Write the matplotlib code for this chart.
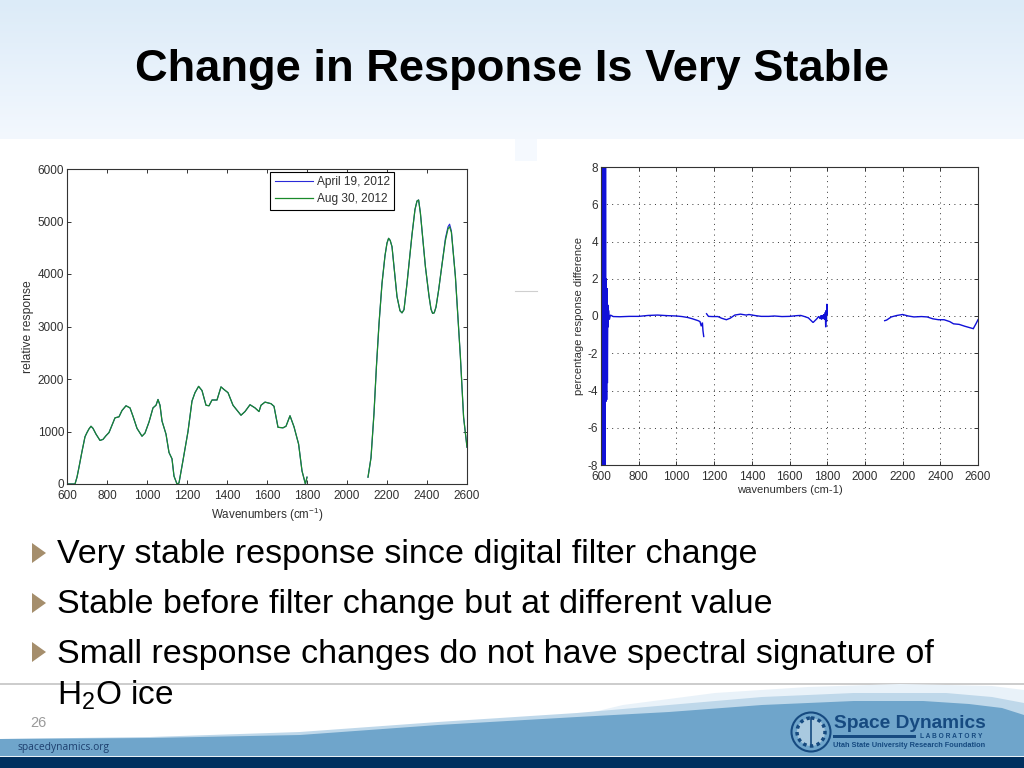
"""
Slide: change in response is very stable.
"""

import matplotlib
matplotlib.use("Agg")
import matplotlib.pyplot as plt
import numpy as np
from matplotlib.patches import Circle, Polygon, Rectangle

plt.rcParams["font.family"] = ["Liberation Sans", "DejaVu Sans"]
plt.rcParams["mathtext.default"] = "regular"
plt.rcParams["axes.unicode_minus"] = False

W, H = 1024, 768

# left chart, nan marks the gap in the band
wavenumber = [600, 620, 640, 650, 660, 675, 690, 700, 710, 720, 730, 745, 765, 780, 795, 810, 825, 840, 860, 875, 895,
              915, 930, 950, 975, 990, 1010, 1030, 1045, 1055, 1065, 1075, 1095, 1110, 1125, 1135, 1150, 1160, 1180,
              1205, 1225, 1240, 1258, 1275, 1295, 1310, 1325, 1350, 1370, 1385, 1405, 1430, 1470, 1490, 1515, 1540,
              1560, 1570, 1590, 1620, 1635, 1655, 1680, 1695, 1715, 1735, 1758, 1775, 1792, 1800, np.nan,
              2105, 2120, 2135, 2147, 2160, 2175, 2190, 2200, 2208, 2216, 2225, 2250, 2265, 2275, 2285, 2300, 2325,
              2340, 2350, 2358, 2367, 2392, 2410, 2420, 2428, 2436, 2445, 2458, 2475, 2492, 2505, 2513, 2522, 2542,
              2567, 2583, 2600]
april_19 = [0, 0, 0, 130, 320, 620, 900, 980, 1050, 1100, 1060, 950, 830, 850, 920, 980, 1120, 1260, 1280, 1400, 1490,
            1450, 1290, 1060, 910, 970, 1180, 1450, 1500, 1610, 1500, 1200, 950, 600, 480, 150, 0, 20, 450,
            1000, 1580, 1740, 1860, 1780, 1500, 1490, 1600, 1600, 1850, 1800, 1740, 1500, 1310, 1380, 1510, 1450,
            1380, 1500, 1560, 1530, 1480, 1080, 1070, 1100, 1300, 1090, 760, 250, 0, 130, np.nan,
            130, 500, 1350, 2230, 3050, 3820, 4350, 4590, 4680, 4640, 4520, 3570, 3300, 3260, 3320, 3820, 4750,
            5230, 5390, 5410, 5160, 4140, 3580, 3330, 3250, 3260, 3370, 3690, 4180, 4680, 4900, 4950, 4820, 3950,
            2420, 1270, 700]
aug_30 = [0, 0, 0, 130, 320, 620, 900, 980, 1050, 1100, 1060, 950, 830, 850, 920, 980, 1120, 1260, 1280, 1400, 1490,
          1450, 1290, 1060, 910, 970, 1180, 1450, 1500, 1610, 1500, 1200, 950, 600, 480, 150, 0, 20, 450,
          1000, 1580, 1740, 1860, 1780, 1500, 1490, 1600, 1600, 1850, 1800, 1740, 1500, 1310, 1380, 1510, 1450,
          1380, 1500, 1560, 1530, 1480, 1080, 1070, 1100, 1300, 1090, 760, 250, 0, 130, np.nan,
          130, 500, 1350, 2230, 3050, 3820, 4350, 4590, 4680, 4640, 4520, 3570, 3300, 3260, 3320, 3820, 4750,
          5230, 5390, 5410, 5160, 4140, 3580, 3330, 3250, 3260, 3370, 3690, 4180, 4640, 4860, 4900, 4790, 3950,
          2420, 1270, 700]

# right chart
diff_x = [606, 608, 610, 612, 614, 616, 618, 620, 622, 624, 626, 628, 630, 632, 634, 636, 638, 640, 644, 650, 665,
          700, 750, 800, 850, 900, 950, 1000, 1030, 1060, 1085, 1100, 1115, 1125, 1132, 1138, 1141, 1145, np.nan,
          1160, 1170, 1190, 1220, 1240, 1265, 1285, 1310, 1340, 1370, 1385, 1420, 1450, 1490, 1520, 1560, 1600,
          1640, 1660, 1680, 1700, 1725, 1745, 1755, 1762, 1766, 1770, 1774, 1778, 1782, 1786, 1790, 1792, 1794, 1796,
          1798, 1800, np.nan,
          2105, 2115, 2140, 2170, 2200, 2230, 2260, 2300, 2330, 2360, 2390, 2420, 2450, 2470, 2500, 2530, 2575,
          2590, 2600]
diff_pct = [-6, 8, -8, 8, -8, 8, -8, 8, -8, 8, -4.6, 2, -4.5, 1.5, -3.6, 0.6, -0.6, 0.3, -0.2, 0.05, -0.03,
            -0.04, -0.02, -0.02, 0.03, 0.05, 0.02, 0.0, -0.03, -0.08, -0.15, -0.2, -0.25, -0.3, -0.55, -0.35, -0.8,
            -1.1, np.nan,
            0.12, -0.02, -0.03, -0.03, -0.12, -0.2, -0.12, 0.05, 0.1, 0.05, 0.08, 0.02, -0.02, -0.02, 0.0, -0.03,
            -0.02, 0.02, 0.03, -0.03, -0.1, -0.35, -0.15, -0.02, -0.15, 0.02, -0.2, 0.05, -0.15, 0.1, -0.2, 0.2,
            -0.6, 0.3, -0.3, 0.65, 0.1, np.nan,
            -0.25, -0.22, -0.05, 0.03, 0.08, 0.0, -0.05, -0.03, -0.05, -0.15, -0.2, -0.2, -0.3, -0.42, -0.45, -0.55,
            -0.68, -0.4, -0.2]

bullets = [
    "Very stable response since digital filter change",
    "Stable before filter change but at different value",
    "Small response changes do not have spectral signature of",
]


def px_axes(fig, left, top, right, bottom):
    """Оси по пиксельным координатам слайда."""
    return fig.add_axes([left / W, 1 - bottom / H, (right - left) / W, (bottom - top) / H])


def style_axes(ax):
    for spine in ax.spines.values():
        spine.set_color("#333333")
        spine.set_linewidth(0.8)
    ax.tick_params(direction="in", length=3, width=0.7, top=True, right=True, labelsize=8.5,
                   labelcolor="#303030", color="#333333")
    ax.tick_params(axis="x", pad=4)
    ax.tick_params(axis="y", pad=2)


fig = plt.figure(figsize=(W / 100, H / 100), dpi=100, facecolor="white")

# background of the slide, in pixels
bg = fig.add_axes([0, 0, 1, 1])
bg.axis("off")
header = np.linspace(0, 1, 140).reshape(-1, 1)
bg.imshow(header, extent=[0, W, 139, 0], cmap=matplotlib.colors.LinearSegmentedColormap.from_list(
    "hdr", ["#dcebf8", "#f3f8fe"]), aspect="auto", zorder=0)
bg.set_xlim(0, W)
bg.set_ylim(H, 0)
bg.add_patch(Rectangle((515, 139), 22, 22, color="#f5f9fe", lw=0, zorder=1))
bg.plot([515, 537], [291, 291], color="#cfcfcf", lw=0.8, zorder=1)
bg.plot([0, W], [683.5, 683.5], color="#c4c4c4", lw=1.2, zorder=1)

# footer swoosh
bg.add_patch(Polygon([(560, 720), (623, 705), (715, 693), (808, 687), (900, 684), (992, 686), (1024, 690), (1024, 757),
                      (560, 757)], color="#e9f2f9", lw=0, zorder=1))
bg.add_patch(Polygon([(0, 739), (150, 737), (300, 732), (438, 722), (577, 713), (669, 705), (762, 697), (854, 693),
                      (946, 693), (992, 697), (1024, 703), (1024, 757), (0, 757)], color="#bfd8ea", lw=0, zorder=1))
bg.add_patch(Polygon([(0, 739), (150, 738), (300, 735), (438, 725), (577, 717), (669, 712), (762, 705), (854, 701),
                      (923, 701), (969, 704), (1002, 708), (1024, 715), (1024, 757), (0, 757)],
                     color="#6fa5cb", lw=0, zorder=2))
bg.add_patch(Rectangle((0, 755.5), W, 2, color="#e6f0f7", lw=0, zorder=3))
bg.add_patch(Rectangle((0, 757), W, 11, color="#00305f", lw=0, zorder=3))

# title and bullets
bg.text(512, 70, "Change in Response Is Very Stable", ha="center", va="center", fontsize=32.6, fontweight="bold",
        color="black", zorder=5)
bullet_y = [553, 603, 652]
for y, line in zip(bullet_y, bullets):
    bg.add_patch(Polygon([(32, y - 10), (46, y), (32, y + 10)], color="#a58e6c", lw=0, zorder=5))
    bg.text(57, y + 2, line, va="center", fontsize=24.5, color="black", zorder=5)
bg.text(57, 695, "H$_2$O ice", va="center", fontsize=24, color="black", zorder=5)

# footer text and logo
bg.text(30, 723, "26", fontsize=10.5, color="#9a9a9a", va="center", zorder=5)
bg.text(18, 747.5, "spacedynamics.org", fontsize=7.4, color="#1d3f6e", va="center", family="Open Sans", zorder=5)
bg.add_patch(Circle((811, 732), 19.5, facecolor="#6fa5cb", edgecolor="#164a80", lw=1.5, zorder=5))
bg.add_patch(Circle((811, 732), 14, facecolor="#a9c9df", edgecolor="#164a80", lw=2.5, ls=(0, (1, 1)), zorder=5))
bg.plot([811, 811], [718, 746], color="#164a80", lw=1.2, zorder=6)
bg.text(834, 724, "Space Dynamics", fontsize=13.8, fontweight="bold", color="#164a80", va="center", zorder=5)
bg.add_patch(Rectangle((833, 735), 83, 2.5, color="#164a80", lw=0, zorder=5))
bg.text(920, 736, "L A B O R A T O R Y", fontsize=4.8, fontweight="bold", color="#164a80", va="center", zorder=5)
bg.text(833, 745.5, "Utah State University Research Foundation", fontsize=5.3, fontweight="bold", color="#164a80",
        va="center", zorder=5)

# left chart
ax1 = px_axes(fig, 67, 169, 467, 484)
ax1.plot(wavenumber, april_19, color="#2a2ad8", lw=0.8, label="April 19, 2012")
ax1.plot(wavenumber, aug_30, color="#1a8a2a", lw=0.9, label="Aug 30, 2012")
ax1.set_xlim(600, 2600)
ax1.set_ylim(0, 6000)
ax1.set_xticks(np.arange(600, 2601, 200))
ax1.set_yticks(np.arange(0, 6001, 1000))
style_axes(ax1)
ax1.set_xlabel("Wavenumbers (cm$^{-1}$)", fontsize=8.4, color="#303030", labelpad=3)
ax1.set_ylabel("relative response", fontsize=8.7, color="#303030", labelpad=3)
leg = ax1.legend(loc="upper left", bbox_to_anchor=((270 - 67) / 400, (484 - 171.5) / 315), fancybox=False,
                 framealpha=1, edgecolor="black", fontsize=8.6, borderaxespad=0, labelcolor="#303030",
                 handlelength=3.2, handletextpad=0.3, borderpad=0.4, labelspacing=0.4)
leg.get_frame().set_linewidth(0.8)

# right chart
ax2 = px_axes(fig, 601, 167, 978, 465)
ax2.plot(diff_x, diff_pct, color="#1010d8", lw=1.0, solid_joinstyle="miter")
ax2.set_xlim(600, 2600)
ax2.set_ylim(-8, 8)
ax2.set_xticks(np.arange(600, 2601, 200))
ax2.set_yticks(np.arange(-8, 9, 2))
ax2.grid(True, color="#333333", linestyle=(0, (1, 4.5)), linewidth=0.7)
ax2.set_axisbelow(True)
style_axes(ax2)
ax2.set_xlabel("wavenumbers (cm-1)", fontsize=8.1, color="#303030", labelpad=2)
ax2.set_ylabel("percentage response difference", fontsize=8.1, color="#303030", labelpad=3)

plt.savefig("out.png", dpi=100)
plt.close()
